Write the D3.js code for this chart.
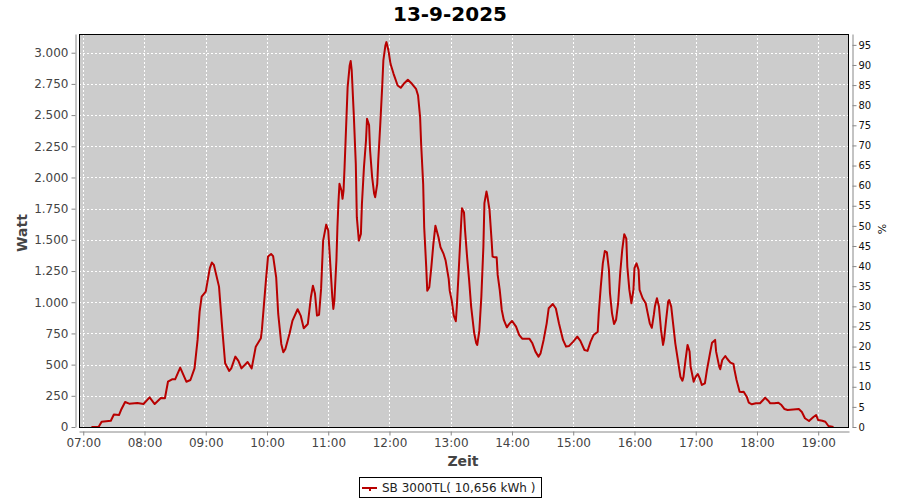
<!DOCTYPE html>
<html>
<head>
<meta charset="utf-8">
<script src="https://cdn.jsdelivr.net/npm/d3@7"></script>
<style>
  body { margin: 0; background: #fff; }
  text { font-family: "DejaVu Sans", sans-serif; }
</style>
</head>
<body>
<script>
const title = "13-9-2025";
const seriesName = "SB 3000TL( 10,656 kWh )";
const yLabel = "Watt";
const y2Label = "%";
const xLabel = "Zeit";

const times = ["07:08","07:15","07:18","07:27","07:30","07:35","07:37","07:41","07:45","07:53","07:59","08:05","08:10","08:16","08:20","08:23","08:27","08:30","08:35","08:41","08:45","08:49","08:52","08:54","08:56","09:00","09:04","09:06","09:08","09:13","09:16","09:19","09:23","09:25","09:29","09:32","09:35","09:41","09:45","09:49","09:54","09:55","09:59","10:01","10:04","10:06","10:09","10:11","10:14","10:16","10:18","10:22","10:25","10:30","10:33","10:36","10:40","10:43","10:45","10:47","10:49","10:51","10:53","10:55","10:58","11:00","11:02","11:04","11:05","11:06","11:08","11:09","11:10","11:11","11:13","11:14","11:15","11:16","11:17","11:19","11:21","11:22","11:23","11:25","11:27","11:28","11:30","11:32","11:33","11:35","11:37","11:38","11:40","11:41","11:43","11:45","11:46","11:48","11:49","11:51","11:53","11:54","11:56","11:57","11:59","12:01","12:04","12:08","12:11","12:14","12:18","12:22","12:26","12:28","12:30","12:31","12:33","12:34","12:36","12:37","12:39","12:41","12:43","12:45","12:48","12:50","12:53","12:55","12:58","12:59","13:01","13:03","13:05","13:06","13:08","13:10","13:11","13:13","13:14","13:16","13:18","13:20","13:23","13:25","13:26","13:28","13:30","13:32","13:33","13:35","13:36","13:38","13:40","13:41","13:43","13:45","13:46","13:48","13:50","13:52","13:55","13:57","14:00","14:04","14:07","14:10","14:17","14:20","14:23","14:26","14:28","14:31","14:34","14:36","14:40","14:43","14:46","14:50","14:53","14:56","15:00","15:04","15:07","15:11","15:14","15:17","15:20","15:24","15:25","15:27","15:29","15:31","15:33","15:35","15:36","15:38","15:40","15:42","15:44","15:46","15:48","15:50","15:52","15:53","15:55","15:57","15:59","16:00","16:02","16:04","16:05","16:08","16:11","16:13","16:15","16:17","16:19","16:20","16:22","16:24","16:26","16:28","16:29","16:31","16:33","16:34","16:36","16:38","16:40","16:43","16:45","16:47","16:48","16:50","16:52","16:54","16:55","16:58","17:00","17:02","17:04","17:06","17:09","17:11","17:14","17:16","17:19","17:20","17:23","17:24","17:26","17:29","17:31","17:34","17:37","17:38","17:40","17:43","17:45","17:47","17:50","17:52","17:55","17:59","18:03","18:06","18:08","18:11","18:13","18:17","18:21","18:24","18:27","18:30","18:41","18:44","18:47","18:51","18:55","18:58","19:00","19:04","19:07","19:10","19:15"];

const watts = [0,0,43,50,100,96,136,200,187,192,184,238,184,232,230,363,382,382,476,363,377,470,698,925,1045,1085,1273,1318,1299,1125,804,511,449,470,564,530,470,521,470,644,711,778,1179,1366,1387,1370,1200,906,666,599,626,746,853,944,893,792,826,1040,1133,1070,893,900,1107,1494,1622,1575,1307,1040,946,1010,1334,1601,1802,1949,1895,1829,1895,2083,2296,2724,2898,2933,2858,2510,2109,1682,1494,1548,1788,2083,2296,2470,2420,2216,2003,1869,1842,1949,2136,2430,2751,2938,3058,3085,3018,2911,2831,2737,2719,2751,2783,2751,2711,2657,2484,2270,1949,1601,1281,1093,1120,1281,1468,1614,1521,1441,1387,1334,1187,1093,1013,893,848,968,1281,1601,1753,1720,1580,1366,1179,965,751,671,658,770,1045,1446,1794,1887,1847,1740,1500,1366,1360,1360,1219,1099,938,858,799,823,850,804,738,708,708,671,604,564,590,698,831,952,986,950,831,698,644,650,684,724,690,617,610,684,738,764,911,1125,1312,1411,1400,1259,1072,911,826,860,992,1232,1419,1545,1510,1286,1099,992,1100,1273,1312,1260,1099,1032,992,911,831,795,900,965,1032,965,778,658,700,858,1005,1018,965,818,671,511,403,371,400,537,658,605,484,363,403,425,390,337,350,457,591,676,698,604,484,463,537,569,545,516,505,457,377,283,280,283,243,195,182,190,190,216,235,211,190,190,195,176,144,136,144,120,70,48,78,96,56,50,42,8,0];

const wattTicks = [0,250,500,750,1000,1250,1500,1750,2000,2250,2500,2750,3000];
const pctTicks = [0,5,10,15,20,25,30,35,40,45,50,55,60,65,70,75,80,85,90,95];
const hourTicks = ["07:00","08:00","09:00","10:00","11:00","12:00","13:00","14:00","15:00","16:00","17:00","18:00","19:00"];

const parseT = d3.timeParse("%H:%M:%S");
const parseHM = d3.timeParse("%H:%M");
const data = times.map((t, i) => ({ t: parseHM(t), v: watts[i] }));

const L = 79, R = 849, T = 34, B = 427;

const x = d3.scaleTime().domain([parseT("06:55:50"), parseT("19:30:10")]).range([L, R]);
const y = d3.scaleLinear().domain([0, 3150]).range([B, T]);
const y2 = d3.scaleLinear().domain([0, 97.7]).range([B, T]);

const de = d3.formatLocale({ decimal: ",", thousands: ".", grouping: [3], currency: ["", "€"] });
const fmtW = de.format(",.0f");

const svg = d3.select("body").append("svg").attr("width", 900).attr("height", 500);

// title
svg.append("text").attr("x", 450).attr("y", 21).attr("text-anchor", "middle")
  .style("font-size", "20px").style("font-weight", "bold").attr("fill", "#000").text(title);

// plot background
svg.append("rect").attr("x", L).attr("y", T).attr("width", R - L).attr("height", B - T).attr("fill", "#cccccc");

// grid
const grid = svg.append("g").attr("stroke", "#ffffff").attr("stroke-width", 1).attr("stroke-dasharray", "2,2").attr("shape-rendering", "crispEdges");
grid.selectAll("line.h").data(wattTicks).join("line").attr("class", "h")
  .attr("x1", L).attr("x2", R).attr("y1", d => Math.round(y(d)) + 0.5).attr("y2", d => Math.round(y(d)) + 0.5);
grid.selectAll("line.v").data(hourTicks.map(parseHM)).join("line").attr("class", "v")
  .attr("y1", T).attr("y2", B).attr("x1", d => Math.round(x(d)) + 0.5).attr("x2", d => Math.round(x(d)) + 0.5);

// line
const line = d3.line().x(d => x(d.t)).y(d => y(d.v));
svg.append("path").datum(data).attr("d", line).attr("fill", "none")
  .attr("stroke", "#b80000").attr("stroke-width", 2).attr("stroke-linejoin", "round");

// frame
svg.append("rect").attr("x", L + 0.5).attr("y", T + 0.5).attr("width", R - L - 1).attr("height", B - T)
  .attr("fill", "none").attr("stroke", "#000").attr("stroke-width", 1);

// left axis
const gl = svg.append("g").attr("transform", "translate(75.5,0)")
  .call(d3.axisLeft(y).tickValues(wattTicks).tickFormat(fmtW).tickSize(4).tickSizeOuter(0).tickPadding(3));
gl.selectAll("text").style("font-size", "12px").attr("fill", "#444");

// right axis
const gr = svg.append("g").attr("transform", "translate(852.5,0)")
  .call(d3.axisRight(y2).tickValues(pctTicks).tickSize(4).tickSizeOuter(0).tickPadding(2));
gr.selectAll("text").style("font-size", "10px").attr("fill", "#111");

// bottom axis
const gb = svg.append("g").attr("transform", "translate(0,431.5)")
  .call(d3.axisBottom(x).tickValues(hourTicks.map(parseHM)).tickFormat(d3.timeFormat("%H:%M")).tickSize(4).tickSizeOuter(0).tickPadding(3));
gb.selectAll("text").style("font-size", "12px").attr("fill", "#444");

[gl, gr, gb].forEach(g => {
  g.select(".domain").attr("stroke", "#888");
  g.selectAll(".tick line").attr("stroke", "#888");
});

// axis labels
svg.append("text").attr("transform", "translate(27,233) rotate(-90)").attr("text-anchor", "middle")
  .style("font-size", "14px").style("font-weight", "bold").attr("fill", "#444").text(yLabel);
svg.append("text").attr("transform", "translate(886,229) rotate(-90)").attr("text-anchor", "middle")
  .style("font-size", "11px").attr("fill", "#111").text(y2Label);
svg.append("text").attr("x", 463).attr("y", 466).attr("text-anchor", "middle")
  .style("font-size", "14px").style("font-weight", "bold").attr("fill", "#444").text(xLabel);

// legend
const lg = svg.append("g");
lg.append("rect").attr("x", 359.5).attr("y", 477.5).attr("width", 182).attr("height", 20)
  .attr("fill", "#fff").attr("stroke", "#000");
lg.append("line").attr("x1", 362).attr("x2", 377).attr("y1", 488).attr("y2", 488)
  .attr("stroke", "#b80000").attr("stroke-width", 2);
lg.append("rect").attr("x", 369).attr("y", 488).attr("width", 2).attr("height", 3).attr("fill", "#b80000");
lg.append("text").attr("x", 382).attr("y", 492).style("font-size", "12px").attr("fill", "#222").text(seriesName);
</script>
</body>
</html>
